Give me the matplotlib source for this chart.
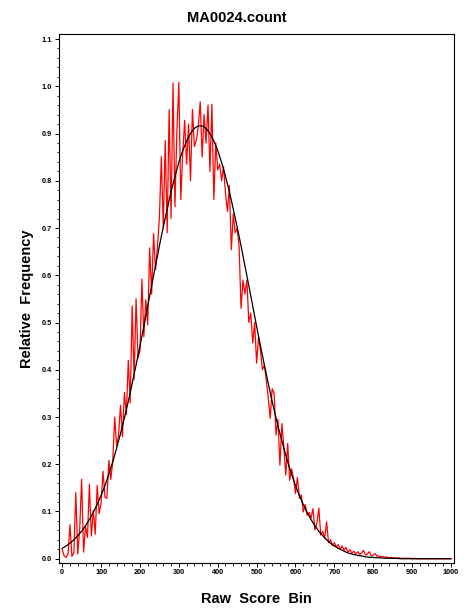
import numpy as np
import matplotlib
matplotlib.use("Agg")
import matplotlib.pyplot as plt
from matplotlib.ticker import MultipleLocator

plt.rcParams['font.family'] = ['Liberation Sans', 'DejaVu Sans']

title = "MA0024.count"
x_label = "Raw  Score  Bin"
y_label = "Relative  Frequency"

# Observed relative frequency (red), one value every 5 score bins from 0 to 1000
obs_bins = list(range(0, 1001, 5))
obs_freq = [
    0.020, 0.006, 0.003, 0.010, 0.072, 0.005, 0.012, 0.140, 0.010, 0.062,
    0.168, 0.014, 0.068, 0.045, 0.158, 0.048, 0.102, 0.052, 0.155, 0.095,
    0.118, 0.185, 0.130, 0.128, 0.208, 0.168, 0.205, 0.300, 0.238, 0.262,
    0.325, 0.258, 0.352, 0.305, 0.420, 0.330, 0.535, 0.380, 0.550, 0.425,
    0.440, 0.592, 0.470, 0.548, 0.495, 0.658, 0.560, 0.688, 0.612, 0.660,
    0.722, 0.851, 0.700, 0.885, 0.690, 0.950, 0.720, 1.007, 0.745, 0.905,
    1.008, 0.760, 0.858, 0.928, 0.835, 0.920, 0.800, 0.951, 0.872, 0.886,
    0.915, 0.967, 0.850, 0.940, 0.880, 0.960, 0.820, 0.962, 0.760, 0.880,
    0.823, 0.835, 0.800, 0.830, 0.773, 0.735, 0.790, 0.654, 0.730, 0.690,
    0.700, 0.660, 0.530, 0.590, 0.560, 0.590, 0.500, 0.520, 0.457, 0.500,
    0.414, 0.470, 0.440, 0.400, 0.410, 0.378, 0.340, 0.297, 0.360, 0.350,
    0.262, 0.295, 0.198, 0.286, 0.237, 0.177, 0.244, 0.166, 0.190, 0.170,
    0.138, 0.172, 0.128, 0.135, 0.099, 0.115, 0.092, 0.098, 0.086, 0.106,
    0.061, 0.075, 0.107, 0.050, 0.058, 0.043, 0.078, 0.034, 0.040, 0.028,
    0.034, 0.025, 0.030, 0.020, 0.027, 0.018, 0.024, 0.014, 0.019, 0.012,
    0.016, 0.010, 0.015, 0.009, 0.012, 0.018, 0.008, 0.010, 0.015, 0.006,
    0.008, 0.011, 0.005, 0.006, 0.004, 0.005, 0.003, 0.004, 0.002, 0.003,
    0.002, 0.002, 0.001, 0.002, 0.001, 0.001, 0.001, 0.001, 0.001, 0.001,
    0.000, 0.001, 0.000, 0.000, 0.000, 0.000, 0.000, 0.000, 0.000, 0.000,
    0.000, 0.000, 0.000, 0.000, 0.000, 0.000, 0.000, 0.000, 0.000, 0.000,
    0.000,
]

# Fitted curve (black), one value every 10 score bins
fit_bins = list(range(0, 1001, 10))
fit_freq = [
    0.022, 0.027, 0.033, 0.040, 0.049, 0.058, 0.070, 0.083, 0.098, 0.115,
    0.134, 0.155, 0.179, 0.205, 0.234, 0.265, 0.298, 0.333, 0.371, 0.410,
    0.450, 0.492, 0.535, 0.578, 0.620, 0.662, 0.702, 0.740, 0.777, 0.809,
    0.839, 0.864, 0.884, 0.900, 0.911, 0.916, 0.916, 0.911, 0.900, 0.884,
    0.864, 0.839, 0.809, 0.777, 0.740, 0.702, 0.662, 0.620, 0.578, 0.535,
    0.492, 0.450, 0.410, 0.371, 0.333, 0.298, 0.265, 0.234, 0.205, 0.179,
    0.155, 0.134, 0.115, 0.098, 0.083, 0.070, 0.058, 0.049, 0.040, 0.033,
    0.027, 0.022, 0.018, 0.014, 0.011, 0.009, 0.007, 0.006, 0.004, 0.003,
    0.003, 0.002, 0.002, 0.001, 0.001, 0.001, 0.001, 0.000, 0.000, 0.000,
    0.000, 0.000, 0.000, 0.000, 0.000, 0.000, 0.000, 0.000, 0.000, 0.000,
    0.000,
]

W, H = 474, 613
fig = plt.figure(figsize=(W / 100, H / 100), dpi=100)
ax = fig.add_axes([58.5 / W, 1 - 563 / H, (454 - 58.5) / W, (563 - 34) / H])

ax.plot(obs_bins, obs_freq, color='#ff0000', lw=0.9)
ax.plot(fit_bins, fit_freq, color='black', lw=0.9)

ax.set_xlim(-9.5, 1007.7)
ax.set_ylim(-0.009, 1.1106)

ax.xaxis.set_major_locator(MultipleLocator(100))
ax.xaxis.set_minor_locator(MultipleLocator(20))
ax.yaxis.set_major_locator(MultipleLocator(0.1))
ax.yaxis.set_minor_locator(MultipleLocator(0.02))
ax.yaxis.set_major_formatter(matplotlib.ticker.FormatStrFormatter('%.1f'))

ax.tick_params(which='major', direction='out', length=3, width=0.7, pad=1.5,
               labelsize=5.3)
ax.tick_params(which='minor', direction='out', length=1.8, width=0.6)
for lab in ax.get_xticklabels() + ax.get_yticklabels():
    lab.set_fontweight('bold')
for s in ax.spines.values():
    s.set_linewidth(0.8)

ax.set_xlabel(x_label, fontsize=10.5, fontweight='bold', va='center')
ax.xaxis.set_label_coords(0.5, (563 - 599) / (563 - 34))
ax.set_ylabel(y_label, fontsize=10.5, fontweight='bold', va='center')
ax.yaxis.set_label_coords((27 - 58.5) / (454 - 58.5), 0.5)

fig.text(237 / W, 1 - 18 / H, title, ha='center', va='center',
         fontsize=10.5, fontweight='bold')

fig.savefig('out.png', dpi=100)
